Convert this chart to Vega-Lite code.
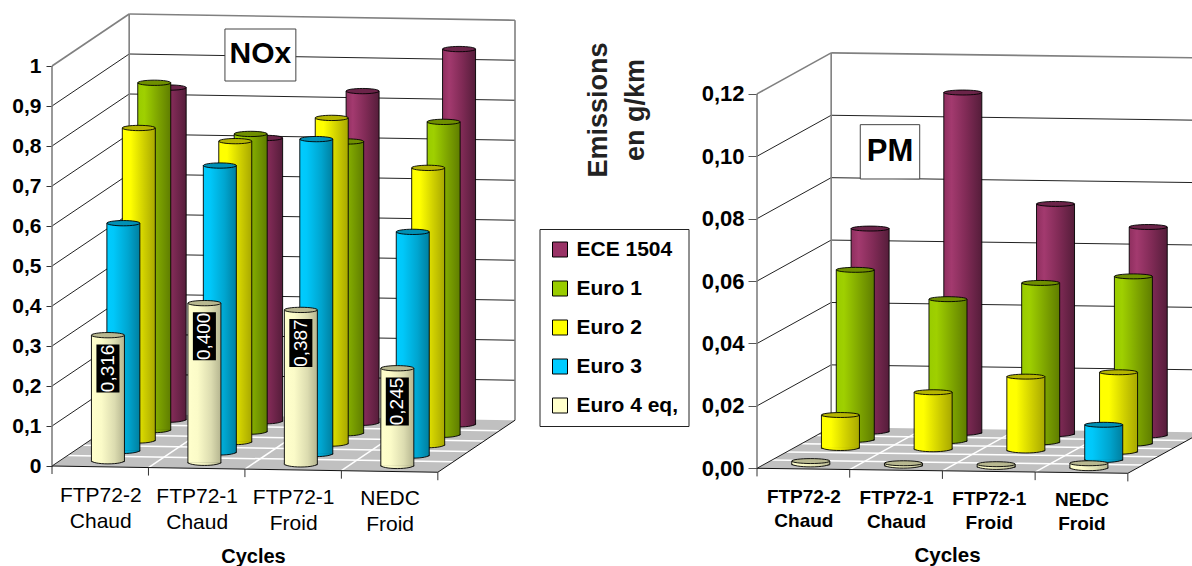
{
"$schema":"https://vega.github.io/schema/vega-lite/v6.json",
"padding":{"left":11,"top":13,"right":0,"bottom":0},
"background":"white",
"config":{"view":{"stroke":null},"font":"Liberation Sans"},
"datasets":{
"nox":[
{"cycle":"FTP72-2 Chaud","series":"ECE 1504","value":0.831},{"cycle":"FTP72-1 Chaud","series":"ECE 1504","value":0.709},{"cycle":"FTP72-1 Froid","series":"ECE 1504","value":0.830},{"cycle":"NEDC Froid","series":"ECE 1504","value":0.939},
{"cycle":"FTP72-2 Chaud","series":"Euro 1","value":0.869},{"cycle":"FTP72-1 Chaud","series":"Euro 1","value":0.745},{"cycle":"FTP72-1 Froid","series":"Euro 1","value":0.730},{"cycle":"NEDC Froid","series":"Euro 1","value":0.783},
{"cycle":"FTP72-2 Chaud","series":"Euro 2","value":0.782},{"cycle":"FTP72-1 Chaud","series":"Euro 2","value":0.753},{"cycle":"FTP72-1 Froid","series":"Euro 2","value":0.815},{"cycle":"NEDC Froid","series":"Euro 2","value":0.694},
{"cycle":"FTP72-2 Chaud","series":"Euro 3","value":0.570},{"cycle":"FTP72-1 Chaud","series":"Euro 3","value":0.718},{"cycle":"FTP72-1 Froid","series":"Euro 3","value":0.788},{"cycle":"NEDC Froid","series":"Euro 3","value":0.560},
{"cycle":"FTP72-2 Chaud","series":"Euro 4 eq,","value":0.316},{"cycle":"FTP72-1 Chaud","series":"Euro 4 eq,","value":0.400},{"cycle":"FTP72-1 Froid","series":"Euro 4 eq,","value":0.387},{"cycle":"NEDC Froid","series":"Euro 4 eq,","value":0.245}],
"pm":[
{"cycle":"FTP72-2 Chaud","series":"ECE 1504","value":0.0652},{"cycle":"FTP72-1 Chaud","series":"ECE 1504","value":0.1092},{"cycle":"FTP72-1 Froid","series":"ECE 1504","value":0.0739},{"cycle":"NEDC Froid","series":"ECE 1504","value":0.0669},
{"cycle":"FTP72-2 Chaud","series":"Euro 1","value":0.0546},{"cycle":"FTP72-1 Chaud","series":"Euro 1","value":0.0456},{"cycle":"FTP72-1 Froid","series":"Euro 1","value":0.0512},{"cycle":"NEDC Froid","series":"Euro 1","value":0.0537},
{"cycle":"FTP72-2 Chaud","series":"Euro 2","value":0.0107},{"cycle":"FTP72-1 Chaud","series":"Euro 2","value":0.0184},{"cycle":"FTP72-1 Froid","series":"Euro 2","value":0.0238},{"cycle":"NEDC Froid","series":"Euro 2","value":0.0256},
{"cycle":"NEDC Froid","series":"Euro 3","value":0.0114},
{"cycle":"FTP72-2 Chaud","series":"Euro 4 eq,","value":0.0012},{"cycle":"FTP72-1 Chaud","series":"Euro 4 eq,","value":0.0009},{"cycle":"FTP72-1 Froid","series":"Euro 4 eq,","value":0.0010},{"cycle":"NEDC Froid","series":"Euro 4 eq,","value":0.0017}],
"ticksL":[{"tick":0},{"tick":0.1},{"tick":0.2},{"tick":0.3},{"tick":0.4},{"tick":0.5},{"tick":0.6},{"tick":0.7},{"tick":0.8},{"tick":0.9}],
"ticksR":[{"tick":0},{"tick":0.02},{"tick":0.04},{"tick":0.06},{"tick":0.08},{"tick":0.1}],
"seps":[{"k":0},{"k":1},{"k":2},{"k":3},{"k":4}],
"depths":[{"k":1},{"k":2},{"k":3},{"k":4}]
},
"bounds":"flush",
"spacing":242,
"hconcat":[
{"width":463,"height":461,"layer":[
{"data":{"values":[{"fx":0,"fy":0,"fy2":0},{"fx":0.8,"fy":-0.0031,"fy2":0.13},{"fx":4,"fy":-0.0156,"fy2":0.1175},{"fx":4.8,"fy":0.1144,"fy2":0.1144}]},
"mark":{"type":"area","color":"#c0c0c0"},
"encoding":{
"x":{"field":"fx","type":"quantitative","scale":{"domain":[0,4.8],"nice":false,"zero":false},
"axis":{"title":"Cycles","titleFont":"Liberation Sans","titleFontSize":20,"titleFontWeight":"bold","titleColor":"#000","titleX":201,"titleY":82,"titleBaseline":"middle","domain":false,"ticks":false,"grid":false,"values":[0.5,1.5,2.5,3.5],"labelAngle":0,"labelFontSize":21,"labelLineHeight":26,"labelColor":"#000","labelOverlap":false,"labelFlush":false,"labelBound":false,"labelPadding":{"condition":[{"test":"datum.value<1","value":10},{"test":"datum.value<2","value":11},{"test":"datum.value<3","value":12}],"value":13},
"labelExpr":"datum.value==0.5?['FTP72-2','Chaud']:datum.value==1.5?['FTP72-1','Chaud']:datum.value==2.5?['FTP72-1','Froid']:['NEDC','Froid']"}},
"y":{"field":"fy","type":"quantitative","scale":{"domain":[-0.02,1.1325],"nice":false,"zero":false},
"axis":{"title":null,"domain":false,"grid":false,"values":[0,0.1,0.2,0.3,0.4,0.5,0.6,0.7,0.8,0.9,1],"tickSize":6,"tickColor":"#333","labelPadding":5,"labelFontSize":21,"labelFontWeight":"bold","labelColor":"#000","labelExpr":"replace(format(datum.value,'~g'),'.',',')"}},
"y2":{"field":"fy2"}}},
{"data":{"name":"depths"},"transform":[{"calculate":"datum.k*0.16","as":"a"},{"calculate":"datum.k*0.026","as":"b"},{"calculate":"datum.a+4","as":"a2"},{"calculate":"datum.b-0.0156","as":"b2"}],
"mark":{"type":"rule","color":"#fff","strokeWidth":1.5},
"encoding":{"x":{"field":"a","type":"quantitative"},"x2":{"field":"a2"},"y":{"field":"b","type":"quantitative"},"y2":{"field":"b2"}}},
{"data":{"name":"seps"},"transform":[{"filter":"datum.k>0&&datum.k<4"},{"calculate":"datum.k+0.8","as":"a2"},{"calculate":"-datum.k*0.0039","as":"b"},{"calculate":"datum.b+0.13","as":"b2"}],
"mark":{"type":"rule","color":"#fff","strokeWidth":1.5},
"encoding":{"x":{"field":"k","type":"quantitative"},"x2":{"field":"a2"},"y":{"field":"b","type":"quantitative"},"y2":{"field":"b2"}}},
{"data":{"name":"ticksL"},"transform":[{"calculate":"datum.tick+0.13","as":"t2"},{"calculate":"datum.t2-0.0156","as":"t3"}],
"layer":[
{"mark":{"type":"rule","color":"#222","strokeWidth":1},"encoding":{"x":{"datum":0,"type":"quantitative"},"x2":{"datum":0.8},"y":{"field":"tick","type":"quantitative"},"y2":{"field":"t2"}}},
{"transform":[{"filter":"datum.tick>0"}],"mark":{"type":"rule","color":"#222","strokeWidth":1},"encoding":{"x":{"datum":0.8,"type":"quantitative"},"x2":{"datum":4.8},"y":{"field":"t2","type":"quantitative"},"y2":{"field":"t3"}}}]},
{"data":{"values":[{"edge":"left","xa":0,"ya":0,"xb":0,"yb":1},{"edge":"back","xa":0.8,"ya":0.13,"xb":0.8,"yb":1.13},{"edge":"right","xa":4.8,"ya":0.1144,"xb":4.8,"yb":1.1144},{"edge":"side","xa":0,"ya":1,"xb":0.8,"yb":1.13},{"edge":"top","xa":0.8,"ya":1.13,"xb":4.8,"yb":1.1144}]},
"mark":{"type":"rule","color":"#808080","strokeWidth":1.6},
"encoding":{"x":{"field":"xa","type":"quantitative"},"x2":{"field":"xb"},"y":{"field":"ya","type":"quantitative"},"y2":{"field":"yb"}}},
{"data":{"values":[{"xa":0,"ya":0,"xb":4,"yb":-0.0156},{"xa":4,"ya":-0.0156,"xb":4.8,"yb":0.1144}]},
"mark":{"type":"rule","color":"#111","strokeWidth":1},
"encoding":{"x":{"field":"xa","type":"quantitative"},"x2":{"field":"xb"},"y":{"field":"ya","type":"quantitative"},"y2":{"field":"yb"}}},
{"data":{"name":"seps"},"transform":[{"calculate":"-datum.k*0.0039","as":"b"},{"calculate":"datum.b-0.02","as":"b2"}],
"mark":{"type":"rule","color":"#333","strokeWidth":1},
"encoding":{"x":{"field":"k","type":"quantitative"},"y":{"field":"b","type":"quantitative"},"y2":{"field":"b2"}}},
{"data":{"name":"nox"},
"transform":[
{"calculate":"indexof(['FTP72-2 Chaud','FTP72-1 Chaud','FTP72-1 Froid','NEDC Froid'],datum.cycle)","as":"c"},
{"calculate":"indexof(['Euro 4 eq,','Euro 3','Euro 2','Euro 1','ECE 1504'],datum.series)","as":"s"},
{"calculate":"datum.c+0.5+(datum.s+0.5)*0.16","as":"cx"},
{"calculate":"datum.cx-0.171","as":"x1"},
{"calculate":"datum.cx+0.171","as":"x2"},
{"calculate":"(datum.s+0.5)*0.026-(datum.c+0.5)*0.0039","as":"base"},
{"calculate":"datum.base+datum.value","as":"top"},
{"calculate":"datum.top-0.083","as":"lab"},
{"calculate":"replace(format(datum.value,'.3f'),'.',',')","as":"txt"}],
"layer":[
{"mark":{"type":"point","filled":true,"opacity":0,"size":1},
"encoding":{"x":{"field":"cx","type":"quantitative"},"y":{"field":"top","type":"quantitative"},
"color":{"field":"series","type":"nominal","scale":{"domain":["ECE 1504","Euro 1","Euro 2","Euro 3","Euro 4 eq,"],"range":["#993366","#99cc00","#ffff00","#00ccff","#ffffcc"]},
"legend":{"orient":"none","legendX":487.5,"legendY":216,"title":null,"symbolType":"square","symbolSize":225,"symbolOpacity":1,"symbolStrokeColor":"#000","symbolStrokeWidth":1,"labelFont":"Liberation Sans","labelFontSize":21,"labelFontWeight":"bold","labelColor":"#000","labelOffset":6,"rowPadding":17,"strokeColor":"#222","fillColor":"#fff","padding":10,"labelLimit":200}}}},
{"transform":[{"filter":"datum.series=='ECE 1504'"}],"layer":[
{"mark":{"type":"rect","stroke":"#000","strokeWidth":0.9,"fill":{"gradient":"linear","x1":0,"x2":1,"y1":0,"y2":0,"stops":[{"offset":0,"color":"#8f2f5f"},{"offset":0.2,"color":"#a33a6f"},{"offset":0.6,"color":"#7f2a55"},{"offset":1,"color":"#551d3a"}]}},"encoding":{"x":{"field":"x1","type":"quantitative"},"x2":{"field":"x2"},"y":{"field":"top","type":"quantitative"},"y2":{"field":"base"}}},
{"mark":{"type":"point","filled":true,"opacity":1,"size":1089,"shape":"M-1,-0.06A1,0.2 0 0 0 1,-0.06","stroke":"#000","strokeWidth":0.9,"fill":{"gradient":"linear","x1":0,"x2":1,"y1":0,"y2":0,"stops":[{"offset":0,"color":"#8f2f5f"},{"offset":0.2,"color":"#a33a6f"},{"offset":0.6,"color":"#7f2a55"},{"offset":1,"color":"#551d3a"}]}},"encoding":{"x":{"field":"cx","type":"quantitative"},"y":{"field":"base","type":"quantitative"}}},
{"mark":{"type":"point","filled":true,"opacity":1,"size":1089,"shape":"M-1,0A1,0.16 0 1 1 1,0A1,0.16 0 1 1 -1,0Z","fill":"#6b2449","stroke":"#000","strokeWidth":0.9},"encoding":{"x":{"field":"cx","type":"quantitative"},"y":{"field":"top","type":"quantitative"}}}]},
{"transform":[{"filter":"datum.series=='Euro 1'"}],"layer":[
{"mark":{"type":"rect","stroke":"#000","strokeWidth":0.9,"fill":{"gradient":"linear","x1":0,"x2":1,"y1":0,"y2":0,"stops":[{"offset":0,"color":"#99cc00"},{"offset":0.2,"color":"#9fd000"},{"offset":0.6,"color":"#7fa600"},{"offset":1,"color":"#5f7d00"}]}},"encoding":{"x":{"field":"x1","type":"quantitative"},"x2":{"field":"x2"},"y":{"field":"top","type":"quantitative"},"y2":{"field":"base"}}},
{"mark":{"type":"point","filled":true,"opacity":1,"size":1089,"shape":"M-1,-0.06A1,0.2 0 0 0 1,-0.06","stroke":"#000","strokeWidth":0.9,"fill":{"gradient":"linear","x1":0,"x2":1,"y1":0,"y2":0,"stops":[{"offset":0,"color":"#99cc00"},{"offset":0.2,"color":"#9fd000"},{"offset":0.6,"color":"#7fa600"},{"offset":1,"color":"#5f7d00"}]}},"encoding":{"x":{"field":"cx","type":"quantitative"},"y":{"field":"base","type":"quantitative"}}},
{"mark":{"type":"point","filled":true,"opacity":1,"size":1089,"shape":"M-1,0A1,0.16 0 1 1 1,0A1,0.16 0 1 1 -1,0Z","fill":"#6f8f00","stroke":"#000","strokeWidth":0.9},"encoding":{"x":{"field":"cx","type":"quantitative"},"y":{"field":"top","type":"quantitative"}}}]},
{"transform":[{"filter":"datum.series=='Euro 2'"}],"layer":[
{"mark":{"type":"rect","stroke":"#000","strokeWidth":0.9,"fill":{"gradient":"linear","x1":0,"x2":1,"y1":0,"y2":0,"stops":[{"offset":0,"color":"#ffff00"},{"offset":0.25,"color":"#ffff00"},{"offset":0.65,"color":"#d0d000"},{"offset":1,"color":"#a8a800"}]}},"encoding":{"x":{"field":"x1","type":"quantitative"},"x2":{"field":"x2"},"y":{"field":"top","type":"quantitative"},"y2":{"field":"base"}}},
{"mark":{"type":"point","filled":true,"opacity":1,"size":1089,"shape":"M-1,-0.06A1,0.2 0 0 0 1,-0.06","stroke":"#000","strokeWidth":0.9,"fill":{"gradient":"linear","x1":0,"x2":1,"y1":0,"y2":0,"stops":[{"offset":0,"color":"#ffff00"},{"offset":0.25,"color":"#ffff00"},{"offset":0.65,"color":"#d0d000"},{"offset":1,"color":"#a8a800"}]}},"encoding":{"x":{"field":"cx","type":"quantitative"},"y":{"field":"base","type":"quantitative"}}},
{"mark":{"type":"point","filled":true,"opacity":1,"size":1089,"shape":"M-1,0A1,0.16 0 1 1 1,0A1,0.16 0 1 1 -1,0Z","fill":"#b5b500","stroke":"#000","strokeWidth":0.9},"encoding":{"x":{"field":"cx","type":"quantitative"},"y":{"field":"top","type":"quantitative"}}}]},
{"transform":[{"filter":"datum.series=='Euro 3'"}],"layer":[
{"mark":{"type":"rect","stroke":"#000","strokeWidth":0.9,"fill":{"gradient":"linear","x1":0,"x2":1,"y1":0,"y2":0,"stops":[{"offset":0,"color":"#00ccff"},{"offset":0.2,"color":"#00c8fa"},{"offset":0.65,"color":"#00a5cf"},{"offset":1,"color":"#007f9f"}]}},"encoding":{"x":{"field":"x1","type":"quantitative"},"x2":{"field":"x2"},"y":{"field":"top","type":"quantitative"},"y2":{"field":"base"}}},
{"mark":{"type":"point","filled":true,"opacity":1,"size":1089,"shape":"M-1,-0.06A1,0.2 0 0 0 1,-0.06","stroke":"#000","strokeWidth":0.9,"fill":{"gradient":"linear","x1":0,"x2":1,"y1":0,"y2":0,"stops":[{"offset":0,"color":"#00ccff"},{"offset":0.2,"color":"#00c8fa"},{"offset":0.65,"color":"#00a5cf"},{"offset":1,"color":"#007f9f"}]}},"encoding":{"x":{"field":"cx","type":"quantitative"},"y":{"field":"base","type":"quantitative"}}},
{"mark":{"type":"point","filled":true,"opacity":1,"size":1089,"shape":"M-1,0A1,0.16 0 1 1 1,0A1,0.16 0 1 1 -1,0Z","fill":"#0090b5","stroke":"#000","strokeWidth":0.9},"encoding":{"x":{"field":"cx","type":"quantitative"},"y":{"field":"top","type":"quantitative"}}}]},
{"transform":[{"filter":"datum.series=='Euro 4 eq,'"}],"layer":[
{"mark":{"type":"rect","stroke":"#000","strokeWidth":0.9,"fill":{"gradient":"linear","x1":0,"x2":1,"y1":0,"y2":0,"stops":[{"offset":0,"color":"#ffffcc"},{"offset":0.3,"color":"#fbfbc8"},{"offset":0.7,"color":"#dcdcb0"},{"offset":1,"color":"#b5b590"}]}},"encoding":{"x":{"field":"x1","type":"quantitative"},"x2":{"field":"x2"},"y":{"field":"top","type":"quantitative"},"y2":{"field":"base"}}},
{"mark":{"type":"point","filled":true,"opacity":1,"size":1089,"shape":"M-1,-0.06A1,0.2 0 0 0 1,-0.06","stroke":"#000","strokeWidth":0.9,"fill":{"gradient":"linear","x1":0,"x2":1,"y1":0,"y2":0,"stops":[{"offset":0,"color":"#ffffcc"},{"offset":0.3,"color":"#fbfbc8"},{"offset":0.7,"color":"#dcdcb0"},{"offset":1,"color":"#b5b590"}]}},"encoding":{"x":{"field":"cx","type":"quantitative"},"y":{"field":"base","type":"quantitative"}}},
{"mark":{"type":"point","filled":true,"opacity":1,"size":1089,"shape":"M-1,0A1,0.16 0 1 1 1,0A1,0.16 0 1 1 -1,0Z","fill":"#b8b890","stroke":"#000","strokeWidth":0.9},"encoding":{"x":{"field":"cx","type":"quantitative"},"y":{"field":"top","type":"quantitative"}}},
{"mark":{"type":"point","filled":true,"opacity":1,"size":2304,"shape":"M-0.48,-1L0.48,-1L0.48,1L-0.48,1Z","fill":"#000","strokeWidth":0},"encoding":{"x":{"field":"cx","type":"quantitative"},"y":{"field":"lab","type":"quantitative"}}},
{"mark":{"type":"text","angle":270,"align":"center","baseline":"middle","color":"#fff","fontSize":19},"encoding":{"x":{"field":"cx","type":"quantitative"},"y":{"field":"lab","type":"quantitative"},"text":{"field":"txt"}}}]}
]},
{"data":{"values":[{"box":"NOx"}]},"layer":[
{"mark":{"type":"rect","fill":"#fff","stroke":"#444","strokeWidth":1},"encoding":{"x":{"datum":1.793,"type":"quantitative"},"x2":{"datum":2.528},"y":{"datum":1.0925,"type":"quantitative"},"y2":{"datum":0.9625}}},
{"mark":{"type":"text","fontSize":30,"fontWeight":"bold","color":"#000","align":"center","baseline":"middle"},"encoding":{"x":{"datum":2.16,"type":"quantitative"},"y":{"datum":1.03,"type":"quantitative"},"text":{"field":"box"}}}]},
{"data":{"values":[{"note":"Emissions\nen g/km"}]},
"mark":{"type":"text","angle":270,"fontSize":27,"fontWeight":"bold","color":"#222","align":"center","baseline":"middle","lineBreak":"\n","lineHeight":37},
"encoding":{"x":{"datum":5.67,"type":"quantitative"},"y":{"datum":0.89,"type":"quantitative"},"text":{"field":"note"}}}
]},
{"width":445,"height":461,"layer":[
{"data":{"values":[{"fx":0,"fy":0,"fy2":0},{"fx":0.8,"fy":-0.00032,"fy2":0.01314},{"fx":4,"fy":-0.0016,"fy2":0.01186},{"fx":4.8,"fy":0.01154,"fy2":0.01154}]},
"mark":{"type":"area","color":"#c0c0c0"},
"encoding":{
"x":{"field":"fx","type":"quantitative","scale":{"domain":[0,4.8],"nice":false,"zero":false},
"axis":{"title":"Cycles","titleFont":"Liberation Sans","titleFontSize":20.5,"titleFontWeight":"bold","titleColor":"#000","titleX":190,"titleY":81,"titleBaseline":"middle","domain":false,"ticks":false,"grid":false,"values":[0.5,1.5,2.5,3.5],"labelAngle":0,"labelFontSize":19,"labelFontWeight":"bold","labelLineHeight":24.5,"labelColor":"#000","labelOverlap":false,"labelFlush":false,"labelBound":false,"labelPadding":{"condition":[{"test":"datum.value<1","value":13},{"test":"datum.value<2","value":14},{"test":"datum.value<3","value":15}],"value":16},
"labelExpr":"datum.value==0.5?['FTP72-2','Chaud']:datum.value==1.5?['FTP72-1','Chaud']:datum.value==2.5?['FTP72-1','Froid']:['NEDC','Froid']"}},
"y":{"field":"fy","type":"quantitative","scale":{"domain":[-0.00183,0.14592],"nice":false,"zero":false},
"axis":{"title":null,"domain":false,"grid":false,"values":[0,0.02,0.04,0.06,0.08,0.1,0.12],"format":".2f","tickSize":9,"tickColor":"#555","labelPadding":4,"labelFontSize":22,"labelFontWeight":"bold","labelColor":"#000","labelExpr":"replace(datum.label,'.',',')"}},
"y2":{"field":"fy2"}}},
{"data":{"name":"depths"},"transform":[{"calculate":"datum.k*0.16","as":"a"},{"calculate":"datum.k*0.00263","as":"b"},{"calculate":"datum.a+4","as":"a2"},{"calculate":"datum.b-0.0016","as":"b2"}],
"mark":{"type":"rule","color":"#fff","strokeWidth":1.5},
"encoding":{"x":{"field":"a","type":"quantitative"},"x2":{"field":"a2"},"y":{"field":"b","type":"quantitative"},"y2":{"field":"b2"}}},
{"data":{"name":"seps"},"transform":[{"filter":"datum.k>0&&datum.k<4"},{"calculate":"datum.k+0.8","as":"a2"},{"calculate":"-datum.k*0.0004","as":"b"},{"calculate":"datum.b+0.01314","as":"b2"}],
"mark":{"type":"rule","color":"#fff","strokeWidth":1.5},
"encoding":{"x":{"field":"k","type":"quantitative"},"x2":{"field":"a2"},"y":{"field":"b","type":"quantitative"},"y2":{"field":"b2"}}},
{"data":{"name":"ticksR"},"transform":[{"calculate":"datum.tick+0.01314","as":"t2"},{"calculate":"datum.t2-0.0016","as":"t3"}],
"layer":[
{"mark":{"type":"rule","color":"#222","strokeWidth":1},"encoding":{"x":{"datum":0,"type":"quantitative"},"x2":{"datum":0.8},"y":{"field":"tick","type":"quantitative"},"y2":{"field":"t2"}}},
{"transform":[{"filter":"datum.tick>0"}],"mark":{"type":"rule","color":"#222","strokeWidth":1},"encoding":{"x":{"datum":0.8,"type":"quantitative"},"x2":{"datum":4.8},"y":{"field":"t2","type":"quantitative"},"y2":{"field":"t3"}}}]},
{"data":{"values":[{"edge":"left","xa":0,"ya":0,"xb":0,"yb":0.12},{"edge":"back","xa":0.8,"ya":0.01314,"xb":0.8,"yb":0.13314},{"edge":"side","xa":0,"ya":0.12,"xb":0.8,"yb":0.13314},{"edge":"top","xa":0.8,"ya":0.13314,"xb":4.8,"yb":0.13154}]},
"mark":{"type":"rule","color":"#808080","strokeWidth":1.6},
"encoding":{"x":{"field":"xa","type":"quantitative"},"x2":{"field":"xb"},"y":{"field":"ya","type":"quantitative"},"y2":{"field":"yb"}}},
{"data":{"values":[{"xa":0,"ya":0,"xb":4,"yb":-0.0016},{"xa":4,"ya":-0.0016,"xb":4.8,"yb":0.01154}]},
"mark":{"type":"rule","color":"#111","strokeWidth":1},
"encoding":{"x":{"field":"xa","type":"quantitative"},"x2":{"field":"xb"},"y":{"field":"ya","type":"quantitative"},"y2":{"field":"yb"}}},
{"data":{"name":"seps"},"transform":[{"calculate":"-datum.k*0.0004","as":"b"},{"calculate":"datum.b-0.0026","as":"b2"}],
"mark":{"type":"rule","color":"#333","strokeWidth":1},
"encoding":{"x":{"field":"k","type":"quantitative"},"y":{"field":"b","type":"quantitative"},"y2":{"field":"b2"}}},
{"data":{"name":"pm"},
"transform":[
{"calculate":"indexof(['FTP72-2 Chaud','FTP72-1 Chaud','FTP72-1 Froid','NEDC Froid'],datum.cycle)","as":"c"},
{"calculate":"indexof(['Euro 4 eq,','Euro 3','Euro 2','Euro 1','ECE 1504'],datum.series)","as":"s"},
{"calculate":"datum.c+0.5+(datum.s+0.5)*0.16","as":"cx"},
{"calculate":"datum.cx-0.205","as":"x1"},
{"calculate":"datum.cx+0.205","as":"x2"},
{"calculate":"(datum.s+0.5)*0.00263-(datum.c+0.5)*0.0004","as":"base"},
{"calculate":"datum.base+datum.value","as":"top"}],
"layer":[
{"transform":[{"filter":"datum.series=='ECE 1504'"}],"layer":[
{"mark":{"type":"rect","stroke":"#000","strokeWidth":0.9,"fill":{"gradient":"linear","x1":0,"x2":1,"y1":0,"y2":0,"stops":[{"offset":0,"color":"#8f2f5f"},{"offset":0.2,"color":"#a33a6f"},{"offset":0.6,"color":"#7f2a55"},{"offset":1,"color":"#551d3a"}]}},"encoding":{"x":{"field":"x1","type":"quantitative"},"x2":{"field":"x2"},"y":{"field":"top","type":"quantitative"},"y2":{"field":"base"}}},
{"mark":{"type":"point","filled":true,"opacity":1,"size":1444,"shape":"M-1,-0.06A1,0.17 0 0 0 1,-0.06","stroke":"#000","strokeWidth":0.9,"fill":{"gradient":"linear","x1":0,"x2":1,"y1":0,"y2":0,"stops":[{"offset":0,"color":"#8f2f5f"},{"offset":0.2,"color":"#a33a6f"},{"offset":0.6,"color":"#7f2a55"},{"offset":1,"color":"#551d3a"}]}},"encoding":{"x":{"field":"cx","type":"quantitative"},"y":{"field":"base","type":"quantitative"}}},
{"mark":{"type":"point","filled":true,"opacity":1,"size":1444,"shape":"M-1,0A1,0.13 0 1 1 1,0A1,0.13 0 1 1 -1,0Z","fill":"#6b2449","stroke":"#000","strokeWidth":0.9},"encoding":{"x":{"field":"cx","type":"quantitative"},"y":{"field":"top","type":"quantitative"}}}]},
{"transform":[{"filter":"datum.series=='Euro 1'"}],"layer":[
{"mark":{"type":"rect","stroke":"#000","strokeWidth":0.9,"fill":{"gradient":"linear","x1":0,"x2":1,"y1":0,"y2":0,"stops":[{"offset":0,"color":"#99cc00"},{"offset":0.2,"color":"#9fd000"},{"offset":0.6,"color":"#7fa600"},{"offset":1,"color":"#5f7d00"}]}},"encoding":{"x":{"field":"x1","type":"quantitative"},"x2":{"field":"x2"},"y":{"field":"top","type":"quantitative"},"y2":{"field":"base"}}},
{"mark":{"type":"point","filled":true,"opacity":1,"size":1444,"shape":"M-1,-0.06A1,0.17 0 0 0 1,-0.06","stroke":"#000","strokeWidth":0.9,"fill":{"gradient":"linear","x1":0,"x2":1,"y1":0,"y2":0,"stops":[{"offset":0,"color":"#99cc00"},{"offset":0.2,"color":"#9fd000"},{"offset":0.6,"color":"#7fa600"},{"offset":1,"color":"#5f7d00"}]}},"encoding":{"x":{"field":"cx","type":"quantitative"},"y":{"field":"base","type":"quantitative"}}},
{"mark":{"type":"point","filled":true,"opacity":1,"size":1444,"shape":"M-1,0A1,0.13 0 1 1 1,0A1,0.13 0 1 1 -1,0Z","fill":"#6f8f00","stroke":"#000","strokeWidth":0.9},"encoding":{"x":{"field":"cx","type":"quantitative"},"y":{"field":"top","type":"quantitative"}}}]},
{"transform":[{"filter":"datum.series=='Euro 2'"}],"layer":[
{"mark":{"type":"rect","stroke":"#000","strokeWidth":0.9,"fill":{"gradient":"linear","x1":0,"x2":1,"y1":0,"y2":0,"stops":[{"offset":0,"color":"#ffff00"},{"offset":0.25,"color":"#ffff00"},{"offset":0.65,"color":"#d0d000"},{"offset":1,"color":"#a8a800"}]}},"encoding":{"x":{"field":"x1","type":"quantitative"},"x2":{"field":"x2"},"y":{"field":"top","type":"quantitative"},"y2":{"field":"base"}}},
{"mark":{"type":"point","filled":true,"opacity":1,"size":1444,"shape":"M-1,-0.06A1,0.17 0 0 0 1,-0.06","stroke":"#000","strokeWidth":0.9,"fill":{"gradient":"linear","x1":0,"x2":1,"y1":0,"y2":0,"stops":[{"offset":0,"color":"#ffff00"},{"offset":0.25,"color":"#ffff00"},{"offset":0.65,"color":"#d0d000"},{"offset":1,"color":"#a8a800"}]}},"encoding":{"x":{"field":"cx","type":"quantitative"},"y":{"field":"base","type":"quantitative"}}},
{"mark":{"type":"point","filled":true,"opacity":1,"size":1444,"shape":"M-1,0A1,0.13 0 1 1 1,0A1,0.13 0 1 1 -1,0Z","fill":"#b5b500","stroke":"#000","strokeWidth":0.9},"encoding":{"x":{"field":"cx","type":"quantitative"},"y":{"field":"top","type":"quantitative"}}}]},
{"transform":[{"filter":"datum.series=='Euro 3'"}],"layer":[
{"mark":{"type":"rect","stroke":"#000","strokeWidth":0.9,"fill":{"gradient":"linear","x1":0,"x2":1,"y1":0,"y2":0,"stops":[{"offset":0,"color":"#00ccff"},{"offset":0.2,"color":"#00c8fa"},{"offset":0.65,"color":"#00a5cf"},{"offset":1,"color":"#007f9f"}]}},"encoding":{"x":{"field":"x1","type":"quantitative"},"x2":{"field":"x2"},"y":{"field":"top","type":"quantitative"},"y2":{"field":"base"}}},
{"mark":{"type":"point","filled":true,"opacity":1,"size":1444,"shape":"M-1,-0.06A1,0.17 0 0 0 1,-0.06","stroke":"#000","strokeWidth":0.9,"fill":{"gradient":"linear","x1":0,"x2":1,"y1":0,"y2":0,"stops":[{"offset":0,"color":"#00ccff"},{"offset":0.2,"color":"#00c8fa"},{"offset":0.65,"color":"#00a5cf"},{"offset":1,"color":"#007f9f"}]}},"encoding":{"x":{"field":"cx","type":"quantitative"},"y":{"field":"base","type":"quantitative"}}},
{"mark":{"type":"point","filled":true,"opacity":1,"size":1444,"shape":"M-1,0A1,0.13 0 1 1 1,0A1,0.13 0 1 1 -1,0Z","fill":"#0090b5","stroke":"#000","strokeWidth":0.9},"encoding":{"x":{"field":"cx","type":"quantitative"},"y":{"field":"top","type":"quantitative"}}}]},
{"transform":[{"filter":"datum.series=='Euro 4 eq,'"}],"layer":[
{"mark":{"type":"rect","stroke":"#000","strokeWidth":0.9,"fill":{"gradient":"linear","x1":0,"x2":1,"y1":0,"y2":0,"stops":[{"offset":0,"color":"#ffffcc"},{"offset":0.3,"color":"#fbfbc8"},{"offset":0.7,"color":"#dcdcb0"},{"offset":1,"color":"#b5b590"}]}},"encoding":{"x":{"field":"x1","type":"quantitative"},"x2":{"field":"x2"},"y":{"field":"top","type":"quantitative"},"y2":{"field":"base"}}},
{"mark":{"type":"point","filled":true,"opacity":1,"size":1444,"shape":"M-1,-0.06A1,0.17 0 0 0 1,-0.06","stroke":"#000","strokeWidth":0.9,"fill":{"gradient":"linear","x1":0,"x2":1,"y1":0,"y2":0,"stops":[{"offset":0,"color":"#ffffcc"},{"offset":0.3,"color":"#fbfbc8"},{"offset":0.7,"color":"#dcdcb0"},{"offset":1,"color":"#b5b590"}]}},"encoding":{"x":{"field":"cx","type":"quantitative"},"y":{"field":"base","type":"quantitative"}}},
{"mark":{"type":"point","filled":true,"opacity":1,"size":1444,"shape":"M-1,0A1,0.13 0 1 1 1,0A1,0.13 0 1 1 -1,0Z","fill":"#b8b890","stroke":"#000","strokeWidth":0.9},"encoding":{"x":{"field":"cx","type":"quantitative"},"y":{"field":"top","type":"quantitative"}}}]}
]},
{"data":{"values":[{"box":"PM"}]},"layer":[
{"mark":{"type":"rect","fill":"#fff","stroke":"#444","strokeWidth":1},"encoding":{"x":{"datum":1.114,"type":"quantitative"},"x2":{"datum":1.755},"y":{"datum":0.11013,"type":"quantitative"},"y2":{"datum":0.09272}}},
{"mark":{"type":"text","fontSize":31,"fontWeight":"bold","color":"#000","align":"center","baseline":"middle"},"encoding":{"x":{"datum":1.435,"type":"quantitative"},"y":{"datum":0.1014,"type":"quantitative"},"text":{"field":"box"}}}]}
]}
]
}
